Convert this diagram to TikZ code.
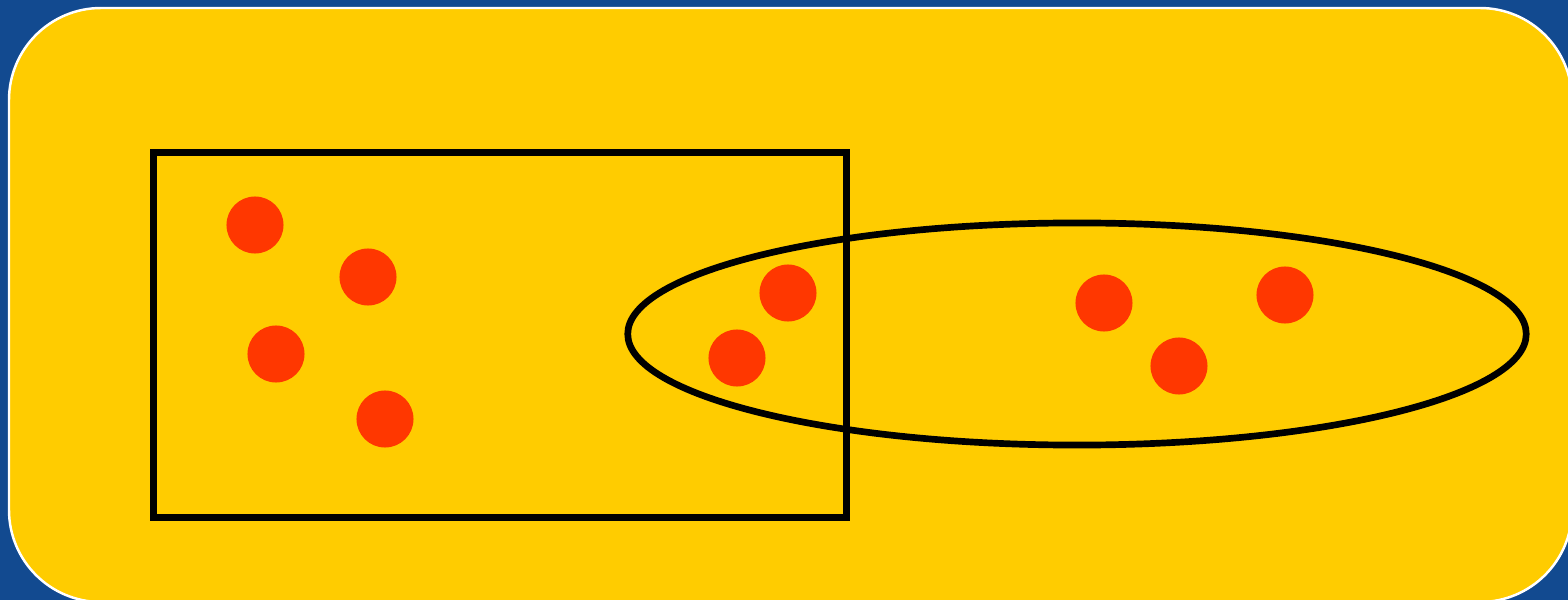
\documentclass[tikz,border=0pt]{standalone}
\usetikzlibrary{shapes.geometric}
\definecolor{bgblue}{HTML}{124A90}
\definecolor{panel}{HTML}{FFCC00}
\definecolor{dotred}{HTML}{FF3700}
\tikzset{
  dot/.style={circle, fill=dotred, inner sep=0pt, minimum size=0.57cm},
  setbox/.style={draw=black, line width=2pt, inner sep=0pt, minimum width=6.92cm, minimum height=3.64cm},
  setoval/.style={ellipse, draw=black, line width=1.9pt, inner sep=0pt, minimum width=8.98cm, minimum height=2.22cm}
}
\begin{document}
\begin{tikzpicture}[x=0.01cm, y=-0.01cm]
  \useasboundingbox (0,0) rectangle (1568,600);
  \fill[bgblue] (0,0) rectangle (1568,600);
  \draw[white, line width=0.7pt, fill=panel, rounded corners=0.92cm] (9,8) rectangle (1572,602);
  \node[setbox] (A) at (500,335) {};
  \node[setoval] (B) at (1077,334) {};
  \node[dot] (d1) at (255,225) {};
  \node[dot] (d2) at (368,277) {};
  \node[dot] (d3) at (276,354) {};
  \node[dot] (d4) at (385,419) {};
  \node[dot] (d5) at (788,293) {};
  \node[dot] (d6) at (737,358) {};
  \node[dot] (d7) at (1104,303) {};
  \node[dot] (d8) at (1179,366) {};
  \node[dot] (d9) at (1285,295) {};
\end{tikzpicture}
\end{document}
